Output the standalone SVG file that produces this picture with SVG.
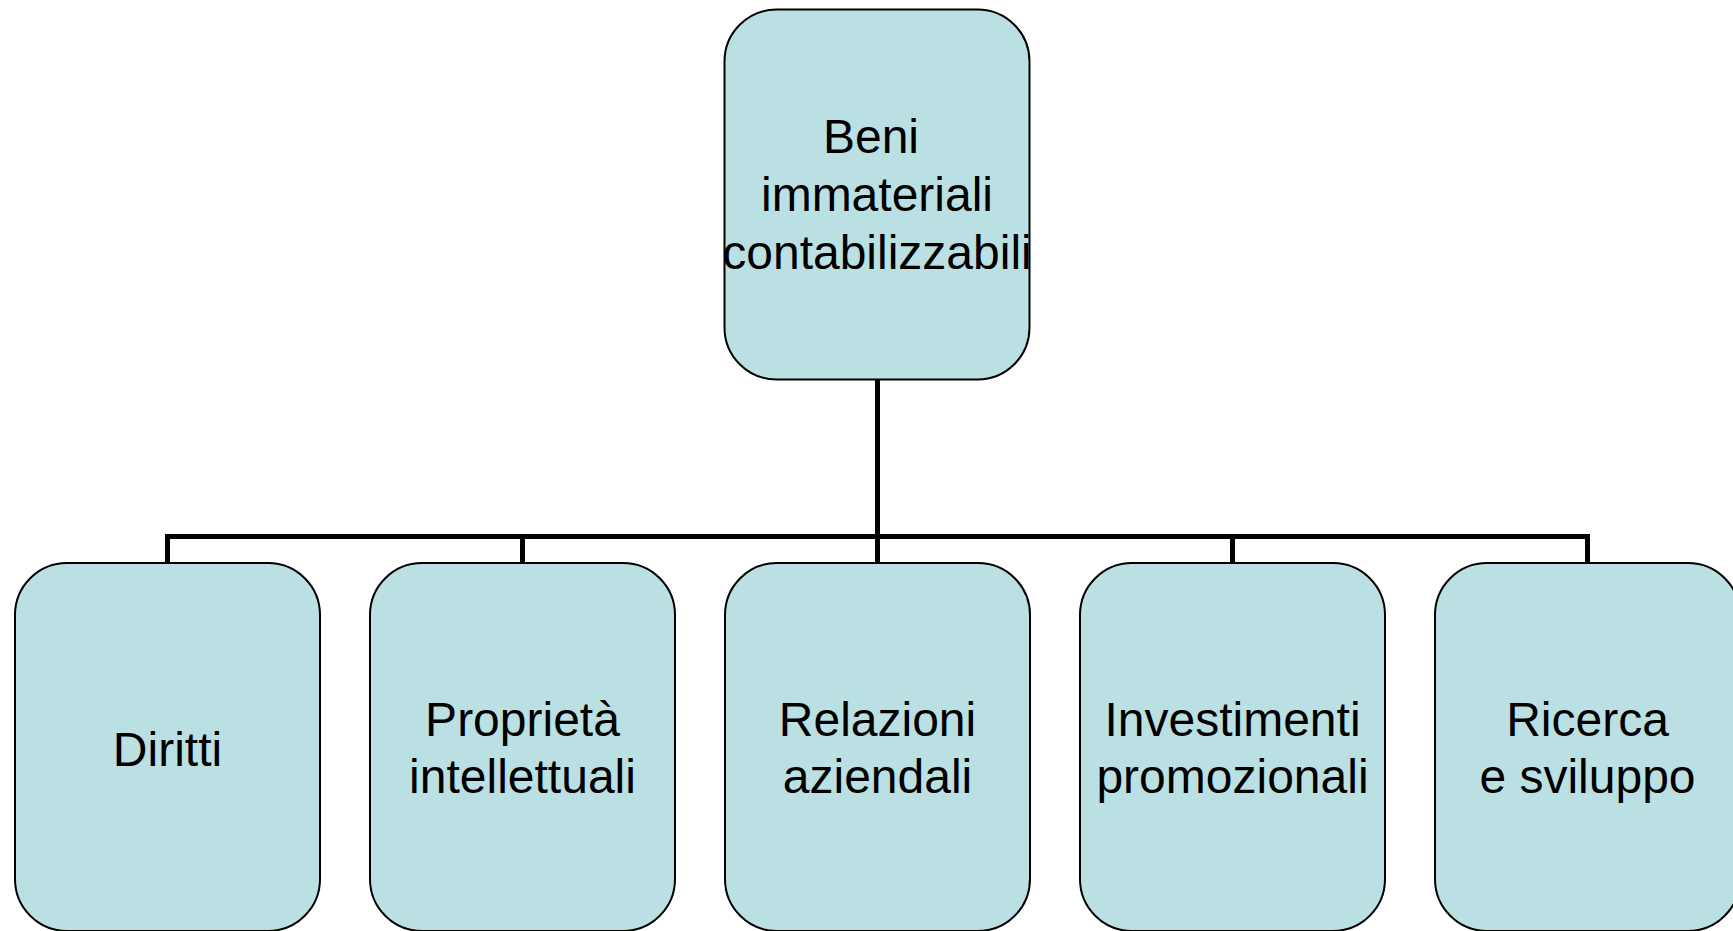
<svg xmlns="http://www.w3.org/2000/svg" width="1733" height="931" viewBox="0 0 1733 931">
  <style>
    .box { fill: #BBE0E3; stroke: #000000; stroke-width: 2; }
    .label { font-family: "Liberation Sans", Arial, sans-serif; font-size: 48px; fill: #000000; text-anchor: middle; }
    .link { fill: none; stroke: #000000; stroke-width: 5; stroke-linejoin: miter; stroke-linecap: butt; }
  </style>
  <rect width="1733" height="931" fill="#FFFFFF"/>

  <!-- tree connectors -->
  <g id="connectors">
    <path class="link" d="M877.5 379 V536.5"/>
    <path class="link" d="M167.5 563 V536.5 H1587.5 V563"/>
    <path class="link" d="M522.5 536.5 V563"/>
    <path class="link" d="M877.5 536.5 V563"/>
    <path class="link" d="M1232.5 536.5 V563"/>
  </g>

  <!-- root -->
  <g id="node-beni">
    <rect class="box" x="724.5" y="9.5" width="305" height="370" rx="52" ry="52"/>
    <text class="label" x="871" y="153">Beni</text>
    <text class="label" x="877" y="211">immateriali</text>
    <text class="label" x="877" y="269">contabilizzabili</text>
  </g>

  <!-- children -->
  <g id="node-diritti">
    <rect class="box" x="15" y="563" width="305" height="368" rx="52" ry="52"/>
    <text class="label" x="167.5" y="766">Diritti</text>
  </g>

  <g id="node-proprieta">
    <rect class="box" x="370" y="563" width="305" height="368" rx="52" ry="52"/>
    <text class="label" x="522.5" y="736">Proprietà</text>
    <text class="label" x="522.5" y="793">intellettuali</text>
  </g>

  <g id="node-relazioni">
    <rect class="box" x="725" y="563" width="305" height="368" rx="52" ry="52"/>
    <text class="label" x="877.5" y="736">Relazioni</text>
    <text class="label" x="877.5" y="793">aziendali</text>
  </g>

  <g id="node-investimenti">
    <rect class="box" x="1080" y="563" width="305" height="368" rx="52" ry="52"/>
    <text class="label" x="1232.5" y="736">Investimenti</text>
    <text class="label" x="1232.5" y="793">promozionali</text>
  </g>

  <g id="node-ricerca">
    <rect class="box" x="1435" y="563" width="305" height="368" rx="52" ry="52"/>
    <text class="label" x="1587.5" y="736">Ricerca</text>
    <text class="label" x="1587.5" y="793">e sviluppo</text>
  </g>
</svg>
